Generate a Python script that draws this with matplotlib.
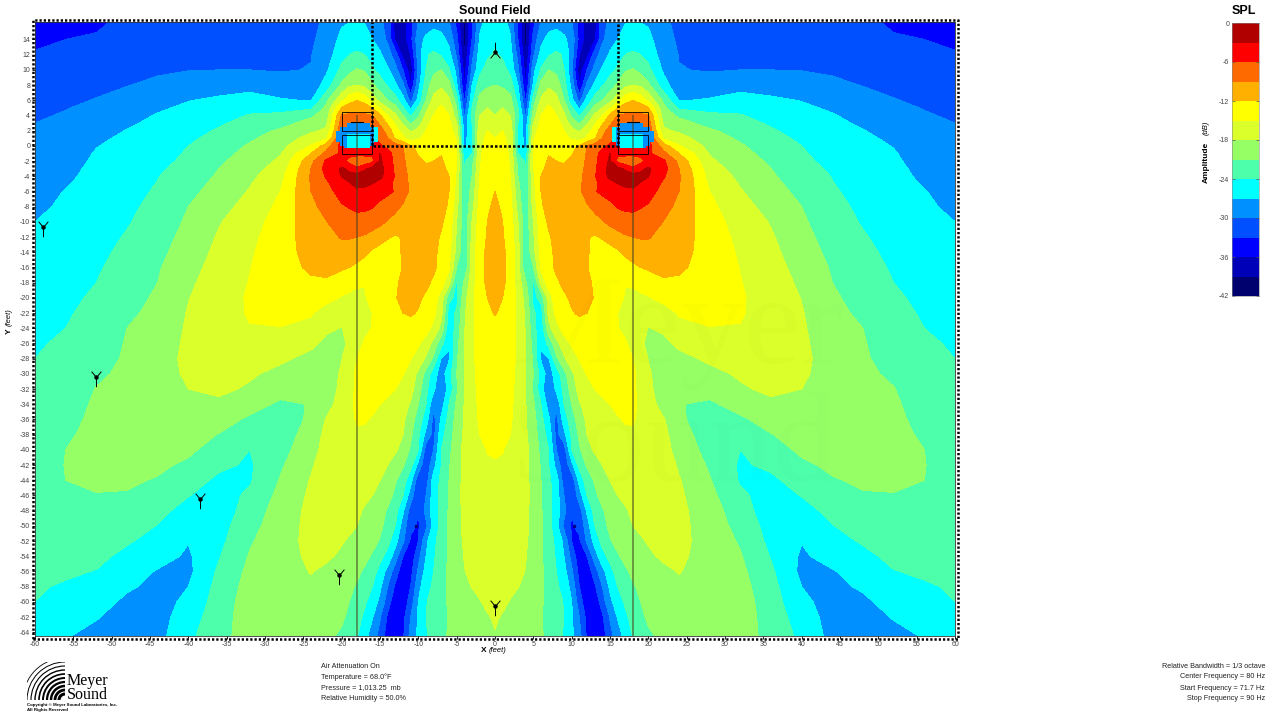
import numpy as np
import matplotlib
matplotlib.use('Agg')
import matplotlib.pyplot as plt
from matplotlib.colors import ListedColormap, BoundaryNorm
from matplotlib.patches import Rectangle, Arc
from matplotlib.path import Path

plt.rcParams['font.family'] = ['Liberation Sans', 'DejaVu Sans']
plt.rcParams['axes.unicode_minus'] = False

# band colours, from -42 dB up to 0 dB
band_colors = ['#00006e', '#0000b8', '#0000ff', '#0050ff', '#0090ff', '#00ffff', '#4dffaa',
               '#96ff66', '#daff2a', '#ffff00', '#ffb000', '#ff6a00', '#ff0000', '#b00000']
levels = [-42, -39, -36, -33, -30, -27, -24, -21, -18, -15, -12, -9, -6, -3, 0]
cbar_ticks = [0, -6, -12, -18, -24, -30, -36, -42]

# field is symmetric about x=0, only the left half is listed (dB below peak)
y_rows = [16.4, 14, 12, 10, 8, 6, 5, 4, 3, 2, 1, 0, -1, -2, -3, -4, -5, -6, -8, -10, -12, -14, -16, -18,
          -20, -22, -24, -26, -28, -30, -32, -34, -36, -38, -40, -42, -44, -46, -48, -50, -52, -54, -56,
          -58, -60, -62, -64.5]

x_far = [-60, -56, -52, -48, -44, -40, -36, -32, -28, -24, -22]
far_rows = [
    [34.5, 34, 33.5, 32.4, 32, 31.7, 31.6, 31.5, 31.5, 30.3, 29.8],
    [33.5, 33, 32.7, 32, 31.7, 31.5, 31.3, 31.2, 31, 30.2, 29.5],
    [32.8, 32.2, 31.9, 31.5, 31.2, 31, 30.8, 30.8, 30.6, 30.1, 28.5],
    [32, 31.6, 31.2, 30.9, 30.4, 30.1, 30, 30, 30.2, 29.9, 27.5],
    [31.4, 31, 30.5, 30.1, 29.4, 28.6, 28.3, 27.9, 28.8, 29.2, 25.8],
    [30.8, 30.4, 29.9, 29, 28, 27.1, 26.5, 26, 26.7, 27.2, 21.6],
    [30.5, 30.1, 29.5, 28.5, 27.4, 26.5, 25.8, 24.9, 25, 24.5, 20.3],
    [30.3, 29.8, 29, 28, 26.8, 26, 25.2, 23.8, 23.4, 21.5, 19.6],
    [30, 29.5, 28.5, 27.4, 26.4, 25.5, 24.4, 23, 22, 20, 18.6],
    [29.8, 29.2, 28, 26.9, 26, 25, 23.7, 22.2, 20.6, 18.5, 17.5],
    [29.5, 28.9, 27.5, 26.5, 25.7, 24.5, 23.1, 21.4, 19.8, 16.8, 15.5],
    [29.2, 28.6, 27.1, 26.2, 25.4, 24, 22.5, 20.7, 19, 14.8, 10.5],
    [29, 28.3, 26.8, 25.9, 25.1, 23.7, 21.9, 20.2, 18.2, 12, 8.2],
    [28.8, 28, 26.6, 25.7, 24.8, 23.4, 21.4, 19.8, 17.5, 9.8, 5.5],
    [28.6, 27.7, 26.4, 25.5, 24.4, 23, 21, 19.2, 16.7, 9, 5],
    [28.4, 27.5, 26.2, 25.3, 24.1, 22.7, 20.6, 18.7, 16, 8.7, 5.7],
    [28.1, 27.2, 26, 25.1, 23.9, 22.2, 20.2, 18.2, 15.5, 8.8, 6.6],
    [27.9, 26.9, 25.9, 24.9, 23.7, 21.8, 19.8, 17.8, 15, 9, 7.2],
    [27.5, 26.6, 25.6, 24.5, 23.3, 21, 19, 17, 14.3, 9.7, 8.1],
    [27, 26.3, 25.2, 24.2, 22.9, 20.5, 18.2, 16.3, 13.7, 10.2, 9.1],
    [26.7, 26, 24.9, 23.8, 22.3, 20, 17.7, 15.8, 13.3, 10.7, 9.9],
    [26.3, 25.7, 24.6, 23.4, 21.8, 19.5, 17.3, 15.4, 13.1, 11.1, 10.7],
    [26, 25.3, 24.3, 23, 21.3, 19, 16.9, 15.1, 13, 11.6, 11.4],
    [25.6, 25, 24, 22.5, 21, 18.5, 16.6, 14.9, 13.2, 12.4, 12.3],
    [25.3, 24.6, 23.6, 22, 20.6, 18.1, 16.3, 14.7, 13.6, 13.5, 14.2],
    [25, 24.3, 23.2, 21.5, 20.3, 17.8, 16.1, 14.8, 14.2, 14.8, 16.2],
    [24.6, 24, 22.9, 21, 20, 17.6, 16, 15.1, 15.1, 15.6, 17.5],
    [24.3, 23.6, 22.5, 20.8, 19.7, 17.4, 16, 15.8, 16.3, 17.4, 18.7],
    [24, 23.3, 22.2, 20.6, 19.5, 17.2, 16.2, 16.7, 17.5, 18.8, 19.5],
    [23.8, 22.9, 21.5, 20.4, 19.4, 17.5, 16.7, 17.6, 18.8, 20, 20.1],
    [23.6, 22.6, 20.9, 20.2, 19.3, 18, 17.4, 18.4, 20.1, 21, 20.2],
    [23.4, 22.2, 20.6, 20, 19.3, 18.6, 18.6, 20, 21.4, 20.9, 19.2],
    [23.2, 21.8, 20.4, 19.9, 19.4, 19.3, 20, 21.4, 22.6, 20.5, 17.8],
    [23, 21.4, 20.2, 19.9, 19.6, 19.9, 21.1, 22.8, 22.4, 19.8, 17.2],
    [22.8, 21, 20.1, 20, 20, 20.5, 22.2, 24, 22, 19.2, 16.8],
    [22.7, 20.9, 20.3, 20.2, 20.5, 21.5, 23.4, 24.4, 21.4, 18.4, 16.4],
    [22.7, 21, 20.6, 20.6, 21.2, 22.7, 24.6, 24.3, 20.8, 17.8, 16.2],
    [22.7, 21.5, 21.1, 21.2, 22.2, 23.9, 25.2, 23.5, 20.2, 17.5, 16],
    [22.7, 22, 21.7, 22, 23.2, 25, 25.7, 22.7, 19.6, 17.3, 15.9],
    [22.8, 22.4, 22.2, 22.8, 24.1, 26, 25.2, 22, 19.4, 17.2, 15.9],
    [23, 22.8, 22.6, 23.7, 25, 26.9, 24.8, 21.3, 19.2, 17.2, 16.4],
    [23.2, 23.2, 23.3, 24.7, 26, 27.4, 24.2, 20.8, 19.1, 17.5, 17.6],
    [23.5, 23.6, 24.1, 25.7, 27.2, 27.7, 23.5, 20.3, 19, 17.9, 18.5],
    [23.7, 24.3, 25, 26.6, 27.7, 27, 23, 19.9, 19, 18.4, 19.1],
    [24, 25, 25.8, 27.6, 28.2, 26.3, 22.6, 19.6, 18.9, 18.7, 19.6],
    [24.5, 25.9, 26.8, 28.3, 28.2, 25.4, 22.4, 19.4, 19, 19, 20.1],
    [25, 26.8, 27.9, 29, 28, 24.6, 22.3, 19.2, 19, 19.2, 20.6],
]

x_near = [-20, -19, -18, -17, -16, -15, -14, -13, -12, -11, -10, -9, -8, -7, -6, -5, -4, -3, -2, -1, 0]
near_rows = [
    [27.5, 27.2, 27.1, 27.3, 28, 29.5, 31, 38, 38, 34, 30, 28.5, 28, 28.5, 30, 34, 39.5, 33.5, 27.5, 26.5, 25.5],
    [26, 25.3, 25, 25.4, 27, 28.5, 30.5, 36.5, 38, 34, 28, 26.5, 25.7, 26, 27.8, 32, 40, 33, 26.8, 25.5, 24.7],
    [25, 24, 23.7, 24, 25, 26.5, 28.7, 31.5, 37, 36, 28.5, 24.3, 23.5, 24.3, 26, 30.5, 39, 31, 25.8, 24.5, 23.6],
    [23.2, 21.8, 20.8, 21.3, 23.5, 25, 26.5, 29, 33, 38, 29.5, 24, 21.7, 21, 23.7, 28, 37.5, 29.5, 24.8, 23, 22.2],
    [20.4, 18.6, 18, 18.7, 20.5, 22.5, 24.3, 26.5, 29.5, 36, 28, 22.5, 19.5, 18.5, 20, 26.5, 36, 27, 22.5, 21.5, 21],
    [15.8, 13, 12, 13, 16.3, 19, 21, 22.8, 26, 31, 26, 21, 17, 16, 17.5, 22.5, 33.5, 25, 20, 18.8, 19.5],
    [11.8, 10.8, 10.5, 10.8, 12, 15.5, 18, 20, 23.7, 27.5, 23.5, 19, 15.7, 14.5, 16, 21, 32, 24, 19.2, 18, 18.7],
    [8.7, 8.5, 8.4, 8.5, 9, 11.5, 15, 17.5, 21, 24.5, 21.5, 17.5, 15, 13.5, 15, 19.5, 30.5, 23, 18, 16.5, 18],
    [7.5, 7, 7, 7, 7.5, 9.5, 12.5, 15.5, 18.5, 21.5, 19.5, 16, 14, 13, 14.3, 18, 29, 24, 17, 16, 16.8],
    [6.5, 6.5, 6.5, 6.5, 6.5, 8, 10, 14, 16, 18.5, 17, 15, 13, 12.5, 13.5, 16.5, 28.5, 25, 16, 15, 15.5],
    [5.5, 5.5, 5.5, 5.5, 5.5, 7, 9, 12.5, 14.5, 16.5, 15.5, 14, 12.7, 12.3, 13, 15.5, 28, 25, 15.5, 14.7, 15],
    [4.8, 5, 5, 5, 5, 5.5, 6.8, 7.6, 8.8, 11.7, 12.7, 12.6, 12.4, 12.2, 13, 14.7, 28, 24.5, 15.8, 13.8, 14.5],
    [5.4, 5, 5, 5, 5.2, 2.9, 5, 7, 8.7, 11, 12.2, 12.4, 12.3, 12.1, 13, 14.5, 26, 24, 15.6, 13.5, 14],
    [5, 7, 8, 8, 7, 2.5, 4.5, 6.8, 8.5, 10.4, 11.5, 12.2, 12, 11.8, 12.6, 15, 24.5, 22, 15.4, 13.3, 13.5],
    [2.6, 3.5, 5.5, 3.5, 2, 1.8, 4.5, 6.5, 8.3, 10, 11, 11.7, 11.7, 11.6, 12.3, 15.2, 24.2, 21.5, 15.2, 13.2, 13.2],
    [2.9, 2.4, 1.5, 1.5, 1.7, 2.4, 4, 6.3, 8, 9.7, 10.5, 11, 11.3, 11.4, 12, 15.5, 24, 21, 15, 13, 12.9],
    [4, 3.2, 2.4, 2.5, 3, 4, 5.4, 6.5, 8, 9.5, 10.3, 10.8, 11.2, 11.3, 11.9, 15.8, 23.8, 20.5, 14.7, 13, 12.4],
    [4.7, 4.2, 3.5, 3.7, 4.2, 5, 5.5, 6.2, 8, 9.4, 10.2, 10.8, 11.2, 11.3, 12, 16, 23.7, 20, 14.5, 13, 12],
    [6.4, 5.8, 5.3, 5.4, 5.8, 6.6, 7.3, 8.4, 9.3, 10, 10.5, 11, 11.2, 11.5, 12.2, 17, 23.5, 19, 14, 12.5, 11.3],
    [7.6, 7.3, 7.2, 7.3, 7.8, 8.3, 9.2, 9.9, 10.2, 10.5, 10.8, 11, 11.2, 11.7, 13, 18, 23, 18, 13.5, 12, 10.9],
    [8.8, 8.8, 9, 9.3, 9.9, 10.8, 11.7, 12.3, 11.8, 11, 11.2, 11.2, 11.5, 12.2, 13.5, 18.5, 23.2, 17.5, 13.2, 11.8, 10.5],
    [10, 10.3, 10.7, 11.4, 12.5, 13.2, 13.7, 13.3, 11.5, 11, 11, 11.2, 11.6, 12.5, 14, 19, 23.5, 16.5, 13, 11.5, 10.3],
    [11.6, 12, 12.6, 13.4, 13.7, 13.9, 13.9, 13.5, 11.8, 11, 10.9, 11.1, 11.6, 12.7, 14.5, 21, 23.5, 17, 13, 11.4, 10.3],
    [13.6, 14.1, 14.6, 14.9, 14.9, 14.3, 13.7, 12.5, 11.3, 11, 11.1, 11.5, 12.4, 13.7, 17, 24.5, 20.5, 16.3, 13, 11.5, 10.6],
    [15.2, 15.5, 15.7, 15.2, 14.3, 13.5, 12.9, 12.2, 11.2, 11, 11.6, 12.4, 13.6, 16.5, 23, 25, 19, 16, 13.4, 12, 11],
    [16.6, 16, 16, 15.6, 15, 14.2, 13.6, 12.6, 12, 11.7, 12.2, 13, 14.3, 17, 25.5, 23.5, 18.5, 15.7, 13.3, 12.3, 11.9],
    [18.1, 17, 16.2, 15.5, 14.9, 14.5, 14, 13.5, 13, 13, 13.2, 14, 15.8, 19, 26, 23, 18.2, 15.7, 13.6, 12.8, 12.5],
    [18.5, 17.6, 15.7, 14.8, 14.4, 14, 13.7, 13.7, 13.7, 14, 14.7, 16.2, 19, 23, 26.7, 22, 18.2, 15.7, 13.7, 13, 13],
    [18.1, 16.2, 15, 14.4, 14.2, 14, 13.8, 13.9, 14.2, 14.9, 16, 18.5, 21.7, 27.2, 27.3, 21.5, 18, 15.7, 13.8, 13, 13],
    [17.5, 15.8, 14.6, 14.2, 14, 14, 14, 14.3, 14.9, 16.2, 18.7, 22, 25.7, 28.5, 25.3, 21, 18, 15.8, 14, 13.2, 13.2],
    [17, 16, 14.4, 14.2, 14.2, 14.2, 14.4, 15, 15.7, 17, 19.7, 23.3, 26.5, 29.5, 26, 21.5, 18, 16, 14.2, 13.5, 13.5],
    [16.7, 15.6, 14.4, 14.3, 14.5, 15, 15.5, 16, 17, 18.3, 21, 24, 29.3, 28.3, 24, 20.5, 17.9, 16.2, 14.4, 13.7, 13.7],
    [16.5, 15.6, 14.8, 14.8, 15.2, 15.6, 16, 16.6, 17.5, 19.5, 22.5, 25.5, 31, 26.5, 23, 20, 17.8, 16.4, 14.6, 14, 14],
    [16.4, 15.8, 15.3, 15.4, 15.7, 16, 16.5, 17, 18, 20.5, 23.5, 28, 31, 25, 22.4, 19.5, 17.6, 16.5, 15, 14.4, 14.3],
    [16, 15.8, 15.8, 16, 16.3, 16.6, 17, 17.6, 19, 21.4, 24, 31.5, 30, 24, 21.8, 19, 17.4, 16.6, 15.8, 14.9, 14.7],
    [16.2, 16.2, 16.3, 16.5, 16.9, 17.3, 18, 19.5, 20.7, 23, 28, 32.3, 28, 24, 21.3, 18.8, 17.4, 16.6, 15.8, 15.3, 15.2],
    [16.2, 16.5, 16.8, 17.1, 17.5, 18, 19, 20.7, 22.5, 26, 32, 31.5, 25.7, 23.3, 21, 18.8, 17.4, 16.6, 15.8, 15.5, 15.4],
    [16.4, 16.8, 17.2, 17.6, 18, 18.8, 20, 21.6, 24, 28.5, 33, 30, 25.5, 23.2, 20.8, 18.7, 17.4, 16.6, 15.9, 15.5, 15.4],
    [16.5, 17.1, 17.6, 18.2, 19, 20, 21.3, 23, 26.5, 31.5, 33, 29, 25.3, 23, 20.7, 18.7, 17.5, 16.6, 16, 15.6, 15.5],
    [17, 17.5, 18, 18.7, 19.5, 20.5, 21.8, 24, 28.5, 32.2, 33.3, 30.8, 25.9, 23, 20.6, 18.7, 17.5, 16.6, 15.8, 15.5, 15.3],
    [17.8, 18.3, 18.7, 19.3, 20.2, 21.2, 23, 26, 29.5, 33.5, 33, 27.7, 24.8, 22.5, 20.6, 18.9, 17.7, 16.8, 16.2, 15.7, 15.6],
    [18.4, 19, 19.6, 20.3, 21.3, 23, 25, 28.5, 33, 35, 31, 27, 24.4, 22.3, 20.6, 19, 17.9, 17, 16.3, 15.9, 15.8],
    [19, 19.7, 20.4, 21.4, 22.8, 25, 28, 31.5, 35, 34, 29.5, 26, 24, 22, 20.6, 19.1, 18.1, 17.3, 16.6, 16.2, 16],
    [19.6, 20.4, 21.3, 22.5, 24, 26.5, 30, 33.5, 35.3, 33, 28, 25, 23.5, 21.9, 20.6, 19.5, 18.7, 17.9, 17.3, 16.6, 16.4],
    [20.2, 21, 22, 23.5, 25.5, 27.7, 31.5, 35.2, 35.2, 31.5, 27, 24.2, 23, 21.8, 20.7, 20, 19.4, 18.8, 18.2, 17.3, 16.9],
    [20.7, 21.4, 22.8, 24.7, 26.8, 29.8, 33.5, 35.7, 34, 30, 26.5, 24, 22.8, 21.7, 20.8, 20.2, 19.7, 19.3, 18.9, 18.3, 17.6],
    [21.3, 22.5, 23.8, 26, 28.5, 31, 34.5, 35.8, 33.5, 29, 26.5, 24.3, 23, 21.8, 20.7, 20.4, 20, 19.6, 19.3, 18.7, 18.2],
]

# clipped cells right at the speaker, cell edges in feet
blob_x = [-20.75, -20.25, -19.75, -19.25, -18.75, -18.25, -17.75, -17.25, -16.75, -16.25, -15.75, -15.25]
blob_y = [3, 2.5, 2, 1.5, 1, 0.5, 0, -0.25]
S = 28.5
C = 25.5
N = np.nan
blob_rows = [
    [N, N, N, S, S, S, S, S, S, N, N],
    [N, S, S, S, S, S, S, S, S, S, C],
    [S, S, S, S, S, S, S, S, S, S, C],
    [S, S, S, C, C, C, C, C, C, S, C],
    [S, S, S, C, C, C, C, C, C, S, C],
    [N, S, S, C, C, C, C, C, C, S, N],
    [N, N, S, C, C, C, C, C, C, N, N],
]

mic_x = [-59, -52, -38.5, -20.4, 0]
mic_y = [-10.7, -30.4, -46.5, -56.5, -60.5]
ceiling_mic = [0, 12.4]
null_spots_x = [-10.3, 10.3]
null_spots_y = [-50, -50]
speaker_x = [-18, 18]

xticks = list(range(-60, 61, 5))
yticks = list(range(14, -65, -2))

info_left = ['Air Attenuation On', 'Temperature = 68.0°F', 'Pressure = 1,013.25  mb', 'Relative Humidity = 50.0%']
info_right = ['Relative Bandwidth = 1/3 octave', 'Center Frequency = 80 Hz', 'Start Frequency = 71.7 Hz', 'Stop Frequency = 90 Hz']


def fx(px):
    return px / 1280


def fy(py):
    return 1 - py / 720


cmap = ListedColormap(band_colors)
norm = BoundaryNorm(levels, cmap.N)

half = -np.hstack([np.array(far_rows), np.array(near_rows)])
x_half = np.array(x_far + x_near)
field = np.hstack([half, half[:, -2::-1]])
x_all = np.concatenate([x_half, -x_half[-2::-1]])

fig = plt.figure(figsize=(12.8, 7.2), dpi=100)
ax = fig.add_axes([fx(35), fy(636), 920 / 1280, 614 / 720])
ax.contourf(x_all, y_rows, field, levels=levels, cmap=cmap, norm=norm)

blob = -np.array(blob_rows)
ax.pcolormesh(blob_x, blob_y, blob, cmap=cmap, norm=norm, zorder=2)
ax.pcolormesh(-np.array(blob_x)[::-1], blob_y, blob[:, ::-1], cmap=cmap, norm=norm, zorder=2)

# faint logo watermark
ax.text(2, -24.5, 'Meyer', fontsize=92, family='Liberation Serif', ha='left', va='center', color='k', alpha=0.01, zorder=2)
ax.text(2, -40, 'Sound', fontsize=92, family='Liberation Serif', ha='left', va='center', color='k', alpha=0.01, zorder=2)

for sx in speaker_x:
    ax.plot([sx, sx], [3.9, -64.5], color='#444422', alpha=0.55, lw=1.4, zorder=3)
    ax.add_patch(Rectangle((sx - 2, 2), 3.9, 2.4, fill=False, ec='k', lw=0.6, zorder=4))
    ax.add_patch(Rectangle((sx - 2, -1.1), 3.9, 2.5, fill=False, ec='k', lw=0.6, zorder=4))
    ax.plot([sx - 0.8, sx + 0.8], [3.2, 3.2], color='k', lw=0.8, zorder=4)

dash = (0, (1, 0.8))
ax.plot([-16, -16, 16, 16], [16.4, 0, 0, 16.4], color='k', lw=1.8, ls=dash, zorder=5)

# microphone glyph: stem, dot, two arms
mic_down = Path([(-1, 1.2), (0, 0), (1, 1.2), (0, 0), (0, -2)],
                [Path.MOVETO, Path.LINETO, Path.LINETO, Path.MOVETO, Path.LINETO])
mic_up = Path([(-1, -1.2), (0, 0), (1, -1.2), (0, 0), (0, 2)],
              [Path.MOVETO, Path.LINETO, Path.LINETO, Path.MOVETO, Path.LINETO])
ax.plot(mic_x, mic_y, ls='none', marker=mic_down, ms=14, mfc='none', mec='k', mew=0.7, zorder=6)
ax.plot(mic_x, mic_y, ls='none', marker='o', ms=2.2, color='k', zorder=6)
ax.plot(ceiling_mic[0], ceiling_mic[1], ls='none', marker=mic_up, ms=14, mfc='none', mec='k', mew=0.7, zorder=6)
ax.plot(ceiling_mic[0], ceiling_mic[1], ls='none', marker='o', ms=2.2, color='k', zorder=6)
ax.plot(null_spots_x, null_spots_y, ls='none', marker='s', ms=1.5, color='#00008b', zorder=6)

ax.set_xlim(-60, 60)
ax.set_ylim(-64.5, 16.3)
ax.set_xticks(xticks)
ax.set_yticks(yticks)
ax.tick_params(axis='both', labelsize=5, labelcolor='#444444', color='k', length=2, width=0.6, pad=1.5)
top = ax.secondary_xaxis('top')
top.set_xticks(xticks)
top.set_xticklabels([])
top.tick_params(direction='in', length=3, width=0.6, color='#888888')
top.spines['top'].set_visible(False)
for side in ax.spines.values():
    side.set_visible(False)

# dotted frame just outside the plot area
dx = 2.5 / 920
dy = 2.5 / 614
ax.plot([-dx, 1 + dx, 1 + dx, -dx, -dx], [-dy, -dy, 1 + dy, 1 + dy, -dy], transform=ax.transAxes,
        color='k', lw=1.8, ls=(0, (0.9, 0.8)), clip_on=False, zorder=7)
ax.plot([0, 1, 1, 0, 0], [0, 0, 1, 1, 0], transform=ax.transAxes, color='#333333', lw=0.6, clip_on=False, zorder=7)

fig.text(fx(494.5), fy(11), 'Sound Field', fontsize=9, fontweight='bold', ha='center', va='center')
fig.text(fx(484), fy(651), 'X', fontsize=6, fontweight='bold', ha='center', va='center')
fig.text(fx(489), fy(651), '(feet)', fontsize=5.5, fontstyle='italic', ha='left', va='center')
fig.text(fx(9), fy(331), 'Y', fontsize=6, fontweight='bold', rotation=90, ha='center', va='center')
fig.text(fx(9), fy(326), '(feet)', fontsize=5.5, fontstyle='italic', rotation=90, ha='center', va='bottom')

# colour scale
cax = fig.add_axes([fx(1232), fy(296), 27 / 1280, 273 / 720])
cax.pcolormesh([0, 1], levels, np.array(levels[:-1]).reshape(-1, 1) + 1.5, cmap=cmap, norm=norm)
cax.set_xticks([])
cax.set_yticks(cbar_ticks)
cax.tick_params(axis='y', labelsize=5, labelcolor='#444444', color='#555555', length=2, width=0.5, pad=2, direction='in', right=True)
for side in cax.spines.values():
    side.set_linewidth(0.4)
    side.set_color('#888888')
fig.text(fx(1244), fy(11), 'SPL', fontsize=9, fontweight='bold', ha='center', va='center')
fig.text(fx(1206), fy(162), 'Amplitude', fontsize=6, fontweight='bold', rotation=90, ha='center', va='center')
fig.text(fx(1206), fy(128), '(dB)', fontsize=5.5, fontstyle='italic', rotation=90, ha='center', va='center')

for py, line in zip([666, 677, 688, 698.5], info_left):
    fig.text(fx(321), fy(py), line, fontsize=5.2, color='#222222', ha='left', va='center')
for py, line in zip([666, 677, 688, 698.5], info_right):
    fig.text(fx(1265), fy(py), line, fontsize=5.2, color='#222222', ha='right', va='center')

# logo block
logo = fig.add_axes([fx(27), fy(700), 38 / 1280, 38 / 720])
logo.set_xlim(0, 38)
logo.set_ylim(0, 38)
logo.axis('off')
for r, w in zip([6, 10, 14, 18, 22, 26, 30, 34, 38, 42], [2.2, 2, 1.8, 1.6, 1.4, 1.2, 1, 0.8, 0.7, 0.6]):
    logo.add_patch(Arc((38, 0), 2 * r, 2 * r, theta1=90, theta2=180, color='k', lw=w))
fig.text(fx(67), fy(681), 'Meyer', fontsize=11.5, family='Liberation Serif', ha='left', va='center')
fig.text(fx(67), fy(695), 'Sound', fontsize=11.5, family='Liberation Serif', ha='left', va='center')
fig.text(fx(27), fy(705), 'Copyright © Meyer Sound Laboratories, Inc.', fontsize=3.2, fontweight='bold', ha='left', va='center')
fig.text(fx(27), fy(710), 'All Rights Reserved', fontsize=3.2, fontweight='bold', ha='left', va='center')

fig.savefig('out.png', dpi=100)
